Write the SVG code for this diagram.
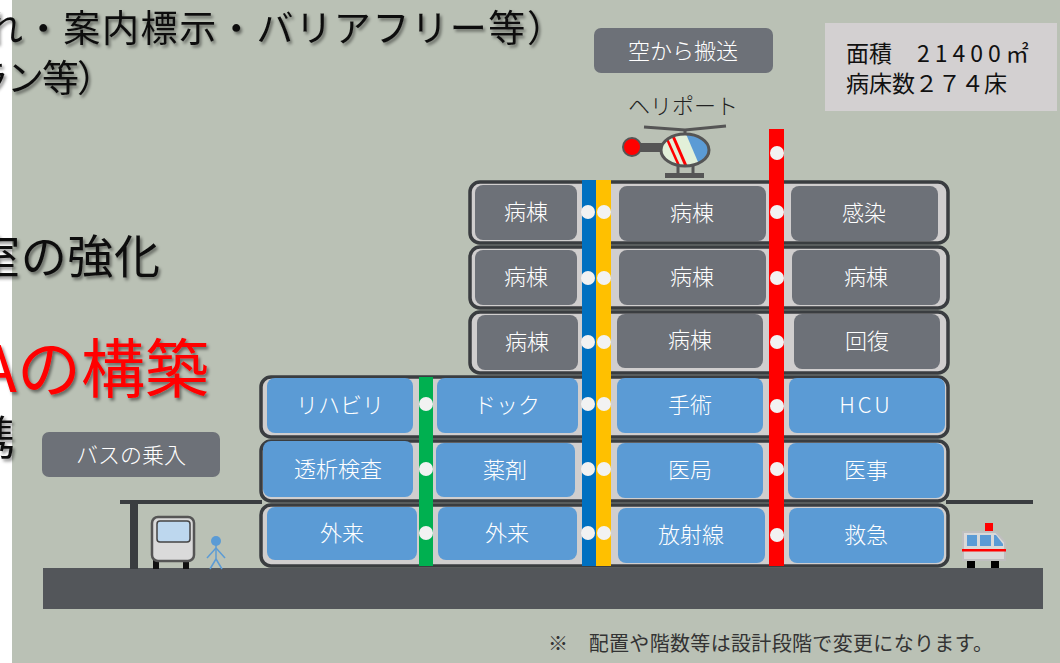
<svg xmlns="http://www.w3.org/2000/svg" width="1060" height="663" viewBox="0 0 1060 663">
  <style>
    .jp { font-family: "Noto Sans CJK JP", "Noto Sans", sans-serif; }
    .head { font-family: "Noto Sans CJK JP", sans-serif; fill: #111; filter: url(#shadow); }
    .floor { fill: #D0CECE; stroke: #3A3D40; stroke-width: 3.5; }
    .room-g { fill: #6D7178; }
    .room-b { fill: #5B9BD5; }
    .lbl { font-family: "Noto Sans CJK JP", sans-serif; font-size: 22px; font-weight: 300; fill: #FFFFFF; text-anchor: middle; }
    .tag { fill: #6D7178; }
    .dot { fill: #F2F2F2; }
    .dark { stroke: #3A3D40; stroke-width: 4; fill: none; }
  </style>
  <defs>
    <filter id="shadow" x="-10%" y="-20%" width="120%" height="150%">
      <feDropShadow dx="2" dy="2.5" stdDeviation="1.5" flood-color="#000" flood-opacity="0.45"/>
    </filter>
    <clipPath id="heliBody">
      <ellipse cx="685" cy="150" rx="24" ry="16"/>
    </clipPath>
  </defs>

  <!-- page -->
  <rect x="0" y="0" width="1060" height="663" fill="#FFFFFF"/>
  <rect x="12" y="0" width="1048" height="663" fill="#BAC1B5"/>

  <!-- slide headings running in from the left -->
  <g id="headings">
    <text class="head" x="-14" y="42" font-size="37" textLength="578" lengthAdjust="spacing">れ・案内標示・バリアフリー等）</text>
    <text class="head" x="-28" y="92" font-size="37" textLength="142" lengthAdjust="spacing">ラン等）</text>
    <text class="head" x="-26" y="273" font-size="46" textLength="186" lengthAdjust="spacing">室の強化</text>
    <text class="head" x="-22" y="392" font-size="64" style="fill:#FF0000">Aの構築</text>
    <text class="head" x="-31" y="454" font-size="46">携</text>
  </g>

  <!-- ground slab -->
  <rect id="ground" x="43" y="568" width="1000" height="41" fill="#53565A"/>

  <!-- canopy lines and pillar -->
  <g id="canopy">
    <line class="dark" x1="120" y1="502" x2="262" y2="502"/>
    <line class="dark" x1="946" y1="502" x2="1033" y2="502"/>
    <rect x="130" y="500" width="8" height="69" fill="#3A3D40"/>
  </g>

  <!-- floors of the building -->
  <g id="floors">
    <rect class="floor" x="470" y="182" width="478" height="61" rx="10"/>
    <rect class="floor" x="470" y="247" width="478" height="61" rx="10"/>
    <rect class="floor" x="470" y="312" width="478" height="61" rx="10"/>
    <rect class="floor" x="261" y="377" width="687" height="60" rx="10"/>
    <rect class="floor" x="261" y="441" width="687" height="60" rx="10"/>
    <rect class="floor" x="261" y="505" width="687" height="61" rx="10"/>
  </g>

  <!-- rooms -->
  <g id="room-f6a"><rect class="room-g" x="475" y="185" width="102" height="55" rx="8"/><text class="lbl" x="526" y="220">病棟</text></g>
  <g id="room-f6b"><rect class="room-g" x="619" y="186" width="147" height="55" rx="8"/><text class="lbl" x="692" y="221">病棟</text></g>
  <g id="room-f6c"><rect class="room-g" x="791" y="186" width="147" height="55" rx="8"/><text class="lbl" x="864" y="221">感染</text></g>

  <g id="room-f5a"><rect class="room-g" x="475" y="250" width="102" height="55" rx="8"/><text class="lbl" x="526" y="285">病棟</text></g>
  <g id="room-f5b"><rect class="room-g" x="619" y="250" width="147" height="55" rx="8"/><text class="lbl" x="692" y="285">病棟</text></g>
  <g id="room-f5c"><rect class="room-g" x="792" y="250" width="148" height="55" rx="8"/><text class="lbl" x="866" y="285">病棟</text></g>

  <g id="room-f4a"><rect class="room-g" x="477" y="315" width="101" height="55" rx="8"/><text class="lbl" x="527" y="350">病棟</text></g>
  <g id="room-f4b"><rect class="room-g" x="617" y="314" width="146" height="54" rx="8"/><text class="lbl" x="690" y="348">病棟</text></g>
  <g id="room-f4c"><rect class="room-g" x="794" y="314" width="146" height="55" rx="8"/><text class="lbl" x="867" y="349">回復</text></g>

  <g id="room-f3a"><rect class="room-b" x="267" y="378" width="146" height="55" rx="8"/><text class="lbl" x="340" y="413">リハビリ</text></g>
  <g id="room-f3b"><rect class="room-b" x="437" y="378" width="141" height="55" rx="8"/><text class="lbl" x="507" y="413">ドック</text></g>
  <g id="room-f3c"><rect class="room-b" x="617" y="378" width="146" height="55" rx="8"/><text class="lbl" x="690" y="413">手術</text></g>
  <g id="room-f3d"><rect class="room-b" x="789" y="378" width="156" height="55" rx="8"/><text class="lbl" x="866" y="413" letter-spacing="3">HCU</text></g>

  <g id="room-f2a"><rect class="room-b" x="263" y="441" width="150" height="56" rx="8"/><text class="lbl" x="338" y="477">透析検査</text></g>
  <g id="room-f2b"><rect class="room-b" x="436" y="443" width="139" height="54" rx="8"/><text class="lbl" x="505" y="478">薬剤</text></g>
  <g id="room-f2c"><rect class="room-b" x="617" y="443" width="146" height="55" rx="8"/><text class="lbl" x="690" y="478">医局</text></g>
  <g id="room-f2d"><rect class="room-b" x="788" y="443" width="156" height="55" rx="8"/><text class="lbl" x="866" y="478">医事</text></g>

  <g id="room-f1a"><rect class="room-b" x="267" y="507" width="150" height="53" rx="8"/><text class="lbl" x="342" y="541">外来</text></g>
  <g id="room-f1b"><rect class="room-b" x="438" y="507" width="139" height="53" rx="8"/><text class="lbl" x="507" y="541">外来</text></g>
  <g id="room-f1c"><rect class="room-b" x="618" y="508" width="147" height="55" rx="8"/><text class="lbl" x="691" y="543">放射線</text></g>
  <g id="room-f1d"><rect class="room-b" x="789" y="508" width="155" height="55" rx="8"/><text class="lbl" x="866" y="543">救急</text></g>

  <!-- elevator lines with stops -->
  <g id="connectors">
    <rect x="419" y="377" width="14" height="189" fill="#00B050"/>
    <rect x="582" y="180" width="14" height="386" fill="#0070C0"/>
    <rect x="596" y="180" width="15" height="386" fill="#FFC000"/>
    <rect x="769" y="129" width="15" height="437" fill="#FF0000"/>

    <circle class="dot" cx="777" cy="153" r="7"/>

    <circle class="dot" cx="588" cy="212" r="7"/>
    <circle class="dot" cx="604" cy="212" r="7"/>
    <circle class="dot" cx="777" cy="212" r="7"/>

    <circle class="dot" cx="588" cy="278" r="7"/>
    <circle class="dot" cx="604" cy="278" r="7"/>
    <circle class="dot" cx="777" cy="278" r="7"/>

    <circle class="dot" cx="588" cy="342" r="7"/>
    <circle class="dot" cx="604" cy="342" r="7"/>
    <circle class="dot" cx="777" cy="342" r="7"/>

    <circle class="dot" cx="426" cy="404" r="7"/>
    <circle class="dot" cx="588" cy="404" r="7"/>
    <circle class="dot" cx="604" cy="404" r="7"/>
    <circle class="dot" cx="777" cy="406" r="7"/>

    <circle class="dot" cx="426" cy="469" r="7"/>
    <circle class="dot" cx="588" cy="469" r="7"/>
    <circle class="dot" cx="604" cy="469" r="7"/>
    <circle class="dot" cx="777" cy="469" r="7"/>

    <circle class="dot" cx="426" cy="533" r="7"/>
    <circle class="dot" cx="588" cy="533" r="7"/>
    <circle class="dot" cx="604" cy="533" r="7"/>
    <circle class="dot" cx="777" cy="535" r="7"/>
  </g>

  <!-- helicopter on the roof -->
  <g id="helicopter">
    <polyline points="644,127 685,130 726,126" fill="none" stroke="#555" stroke-width="3"/>
    <line x1="685" y1="130" x2="685" y2="135" stroke="#555" stroke-width="3"/>
    <rect x="632" y="143" width="30" height="9" fill="#555"/>
    <circle cx="632" cy="147" r="9" fill="#FF0000" stroke="#555" stroke-width="2"/>
    <line x1="678" y1="164" x2="678" y2="175" stroke="#555" stroke-width="3"/>
    <line x1="693" y1="164" x2="693" y2="175" stroke="#555" stroke-width="3"/>
    <rect x="665" y="173" width="39" height="5" fill="#555"/>
    <ellipse cx="685" cy="150" rx="24" ry="16" fill="#E2F0D9"/>
    <g clip-path="url(#heliBody)">
      <polygon points="686,134 712,134 712,162 698,162" fill="#5B9BD5"/>
      <line x1="667" y1="139" x2="680" y2="168" stroke="#FF0000" stroke-width="2.5"/>
      <line x1="673" y1="136" x2="686" y2="166" stroke="#FF0000" stroke-width="3"/>
    </g>
    <ellipse cx="685" cy="150" rx="24" ry="16" fill="none" stroke="#555" stroke-width="3"/>
  </g>

  <g id="heliport-label">
    <text class="jp" x="683" y="114" font-size="22" font-weight="300" fill="#222" text-anchor="middle">ヘリポート</text>
  </g>

  <g id="air-transport">
    <rect class="tag" x="594" y="28" width="179" height="45" rx="7"/>
    <text class="lbl" x="683" y="59">空から搬送</text>
  </g>

  <g id="bus-entry">
    <rect class="tag" x="42" y="432" width="178" height="45" rx="7"/>
    <text class="lbl" x="131" y="463">バスの乗入</text>
  </g>

  <g id="info">
    <rect x="825" y="23" width="232" height="88" fill="#D3D0D1"/>
    <text class="jp" x="846" y="62" font-size="23" fill="#111">面積</text>
    <text class="jp" x="917" y="62" font-size="23" fill="#111" letter-spacing="5">21400㎡</text>
    <text class="jp" x="846" y="92" font-size="23" fill="#111">病床数２７４床</text>
  </g>

  <!-- bus -->
  <g id="bus">
    <rect x="153" y="560" width="6" height="9" fill="#111"/>
    <rect x="183" y="560" width="6" height="9" fill="#111"/>
    <rect x="152" y="517" width="42" height="44" rx="6" fill="#DADADA" stroke="#555" stroke-width="2.5"/>
    <rect x="157" y="521" width="33" height="21" rx="3" fill="#BDD7EE" stroke="#444" stroke-width="1.5"/>
  </g>

  <!-- person -->
  <g id="person" stroke="#5B9BD5" stroke-width="1.5" fill="none">
    <circle cx="216" cy="541" r="5" fill="#5B9BD5" stroke="none"/>
    <line x1="216" y1="545" x2="216" y2="559"/>
    <line x1="216" y1="548" x2="207" y2="558"/>
    <line x1="216" y1="548" x2="225" y2="558"/>
    <line x1="216" y1="559" x2="210" y2="569"/>
    <line x1="216" y1="559" x2="222" y2="569"/>
  </g>

  <!-- ambulance -->
  <g id="ambulance">
    <rect x="967" y="560" width="8" height="8" fill="#000"/>
    <rect x="991" y="560" width="8" height="8" fill="#000"/>
    <rect x="985" y="523" width="8" height="8" fill="#FF0000"/>
    <path d="M963,532 H996 L1005,542 V560 H963 Z" fill="#D9D9D9" stroke="#BFBFBF" stroke-width="2"/>
    <rect x="967" y="535" width="10" height="11" fill="#5B9BD5"/>
    <rect x="980" y="535" width="11" height="11" fill="#5B9BD5"/>
    <path d="M994,535 H996 L1003,544 V546 H994 Z" fill="#5B9BD5"/>
    <rect x="962" y="549" width="44" height="2.5" fill="#FF0000"/>
  </g>

  <text id="note" class="jp" x="548" y="651" font-size="20" fill="#333" textLength="445" lengthAdjust="spacing">※　配置や階数等は設計段階で変更になります。</text>
</svg>
